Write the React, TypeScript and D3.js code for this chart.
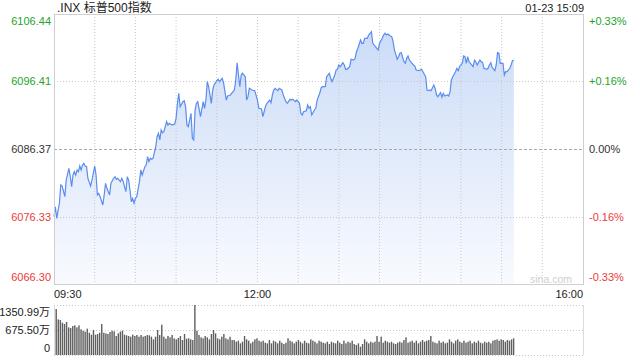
import React from "react";
import * as d3 from "d3";

// ---- data ----
const title = ".INX 标普500指数";
const stamp = "01-23 15:09";
const prevClose = 6086.37;
const yTicks = [6106.44, 6096.41, 6086.37, 6076.33, 6066.3];
const yTickLabels = ["6106.44", "6096.41", "6086.37", "6076.33", "6066.30"];
const pctLabels = ["+0.33%", "+0.16%", "0.00%", "-0.16%", "-0.33%"];
const timeLabels = ["09:30", "12:00", "16:00"];
const timeLabelMinutes = [0, 150, 390];
const volTicks = [1350.99, 675.5, 0];
const volTickLabels = ["1350.99万", "675.50万", "0"];

// minutes after 09:30
const minutes = [
  0, 1, 2, 4, 5, 6, 8, 9, 11, 12, 13, 14, 15, 16, 17, 18, 19, 20, 21, 22, 23, 24, 25, 27, 28, 30, 31, 32, 33, 34,
  36, 37, 38, 39, 41, 42, 44, 45, 46, 47, 49, 50, 51, 52, 53, 54, 55, 56, 57, 58, 59, 60, 61, 63, 64, 65, 67, 68, 69, 70,
  71, 72, 73, 75, 76, 77, 78, 79, 80, 81, 83, 84, 85, 87, 89, 90, 91, 92, 93, 95, 96, 97, 98, 99, 101, 102, 103, 104, 105, 106,
  108, 110, 111, 112, 113, 114, 116, 117, 118, 120, 121, 122, 124, 125, 127, 128, 130, 132, 133, 134, 135, 137, 138, 139, 141, 142, 143, 144, 146, 148,
  150, 151, 153, 154, 156, 157, 159, 160, 161, 162, 163, 165, 166, 168, 169, 171, 172, 174, 175, 176, 178, 179, 181, 182, 183, 184, 186, 187, 188, 189,
  190, 192, 193, 194, 196, 197, 198, 200, 201, 203, 204, 205, 207, 208, 209, 210, 211, 213, 214, 215, 216, 218, 219, 221, 222, 223, 224, 226, 227, 228,
  229, 231, 232, 233, 234, 235, 237, 238, 239, 240, 242, 243, 244, 245, 246, 248, 249, 250, 251, 253, 254, 255, 256, 258, 259, 260, 261, 262, 264, 265,
  266, 267, 269, 270, 271, 272, 274, 275, 276, 277, 278, 280, 281, 282, 283, 285, 286, 287, 288, 290, 291, 292, 293, 294, 296, 297, 298, 299, 301, 302,
  303, 304, 305, 306, 307, 309, 310, 311, 312, 314, 315, 316, 317, 319, 320, 321, 322, 323, 325, 326, 327, 328, 329, 331, 332, 333, 334, 336, 337, 338,
  339,
];

const prices = [
  6076.31, 6077.79, 6076.07, 6078.34, 6081.02, 6080.87, 6079.28, 6081.76, 6083.5, 6082.25, 6080.77, 6082.5, 6083.0, 6082.5, 6083.25, 6083.0, 6083.84, 6083.25, 6083.99, 6084.24, 6083.84, 6083.74, 6082.01, 6080.87, 6081.76, 6083.84, 6082.5, 6079.53, 6079.78, 6079.28,
  6078.04, 6079.53, 6081.27, 6080.53, 6079.53, 6081.27, 6082.01, 6082.25, 6081.87, 6082.01, 6081.51, 6082.01, 6081.51, 6080.77, 6080.02, 6082.25, 6081.76, 6080.27, 6078.54, 6079.04, 6078.3, 6079.04, 6079.28, 6081.51, 6083.25, 6082.5, 6083.74, 6083.99, 6085.23, 6084.48,
  6084.99, 6084.84, 6084.99, 6086.71, 6088.2, 6088.7, 6087.71, 6089.19, 6088.79, 6088.94, 6090.43, 6089.94, 6090.19, 6089.94, 6090.09, 6090.93, 6093.16, 6094.65, 6092.66, 6093.4, 6093.55, 6092.66, 6089.94, 6089.69, 6091.68, 6087.96, 6087.71, 6092.17, 6093.16, 6093.4,
  6091.17, 6093.4, 6092.42, 6093.65, 6096.38, 6095.63, 6093.16, 6095.14, 6095.88, 6096.52, 6096.73, 6096.38, 6096.88, 6096.23, 6093.65, 6094.25, 6094.4, 6094.89, 6095.14, 6096.63, 6099.2, 6095.63, 6097.37, 6097.62, 6097.12, 6093.65, 6094.15, 6095.39, 6095.14, 6095.04,
  6093.65, 6092.42, 6092.32, 6091.17, 6092.76, 6093.16, 6093.65, 6093.25, 6094.4, 6095.14, 6095.39, 6095.04, 6095.39, 6095.14, 6094.4, 6093.4, 6093.16, 6093.76, 6093.65, 6093.76, 6093.4, 6093.65, 6093.16, 6091.68, 6091.42, 6091.92, 6092.06, 6092.91, 6092.42, 6092.66,
  6091.42, 6092.17, 6092.42, 6093.65, 6094.74, 6095.48, 6095.63, 6095.63, 6097.12, 6097.62, 6096.88, 6096.38, 6097.37, 6098.11, 6098.22, 6098.86, 6098.61, 6099.2, 6098.86, 6098.22, 6098.22, 6098.61, 6099.71, 6099.6, 6099.85, 6100.84, 6101.34, 6102.57, 6102.08, 6102.08,
  6102.83, 6102.83, 6103.32, 6103.57, 6103.81, 6102.08, 6101.58, 6101.34, 6101.09, 6102.08, 6102.83, 6103.32, 6103.57, 6103.32, 6103.47, 6103.17, 6103.07, 6102.32, 6101.09, 6099.71, 6100.09, 6100.6, 6100.69, 6099.35, 6099.11, 6099.85, 6100.2, 6099.6, 6099.11, 6098.86,
  6098.71, 6098.11, 6098.01, 6098.11, 6098.22, 6097.86, 6097.12, 6095.14, 6095.04, 6095.14, 6095.04, 6095.88, 6095.39, 6094.4, 6094.15, 6094.74, 6094.06, 6094.65, 6094.25, 6094.4, 6094.25, 6094.89, 6096.63, 6097.12, 6097.86, 6098.37, 6098.01, 6098.61, 6099.11, 6100.2,
  6100.09, 6099.11, 6100.09, 6099.35, 6099.11, 6098.61, 6099.6, 6099.35, 6098.86, 6099.6, 6099.35, 6099.2, 6098.37, 6098.22, 6098.37, 6098.86, 6099.2, 6098.52, 6098.01, 6098.86, 6100.69, 6100.6, 6099.11, 6099.11, 6097.37, 6097.86, 6097.86, 6098.37, 6098.86, 6099.5,
  6099.6,
];

// volume (万), evenly spaced bars across the session so far
const volumes = [
  1242, 963, 945, 873, 837, 891, 747, 729, 783, 801, 747, 801, 693, 657, 630, 711, 603, 549, 675, 549, 567, 603, 837, 603, 585, 567, 621, 657, 639, 513, 585, 630, 657,
  549, 531, 513, 495, 549, 513, 540, 495, 540, 495, 513, 540, 531, 495, 423, 495, 675, 540, 819, 495, 441, 513, 477, 540, 450, 423, 459, 513, 405, 567, 441, 450, 423, 405,
  1350.99,
  657, 540, 477, 450, 513, 477, 423, 567, 675, 585, 450, 423, 495, 567, 450, 423, 495, 405, 405, 360, 387, 315, 360, 513, 423, 387, 315, 360, 423, 450, 387, 360, 387, 333, 315, 405,
  315, 387, 360, 315, 387, 333, 297, 333, 450, 387, 360, 315, 360, 405, 360, 315, 387, 333, 315, 423, 387, 360, 315, 387, 360, 333, 315, 360, 297, 360, 333, 315, 387, 333, 297, 387,
  315, 360, 333, 387, 297, 270, 315, 225, 297, 423, 360, 315, 360, 333, 360, 513, 360, 495, 333, 387,
  360, 333, 360, 315, 297, 333, 360, 333, 405, 477, 333, 360, 387, 333, 387, 315, 360, 405, 360, 387, 405, 513, 360, 333, 315, 387, 333, 360, 315, 333, 423, 360, 315, 387, 423,
  360, 333, 387, 333, 360, 387, 315, 360, 333, 387, 333, 315, 360, 333, 360, 315, 387, 405, 423, 387, 423, 405, 360, 405, 387, 423, 450,
];

const W = 640;
const H = 360;
const FONT = '"Liberation Sans", Arial, "Noto Sans CJK SC", sans-serif';
const GREEN = "#26a32a";
const RED = "#ea3b3b";
const LINE = "#5a8ded";

export default function App() {
  const left = 54;
  const right = 583;
  const top = 14;
  const bottom = 284;
  const vTop = 305;
  const vBottom = 355;

  const x = d3.scaleLinear().domain([0, 390]).range([left, right]);
  const y = d3.scaleLinear().domain([6066.3, 6106.44]).range([bottom, top]);
  const vy = d3.scaleLinear().domain([0, 1350.99]).range([vBottom, vTop]);
  const vx = d3
    .scaleBand<number>()
    .domain(volumes.map((_, i) => i))
    .range([left + 1.5, x(339) + 0.5])
    .paddingInner(0.32);

  const pts = minutes.map((m, i) => [m, prices[i]] as [number, number]);
  const line = d3
    .line<[number, number]>()
    .x((d) => x(d[0]))
    .y((d) => y(d[1]));
  const area = d3
    .area<[number, number]>()
    .x((d) => x(d[0]))
    .y0(bottom)
    .y1((d) => y(d[1]));

  const vGrid = d3.range(30, 390, 30);

  const colorFor = (v: number) =>
    v > prevClose + 0.001 ? GREEN : v < prevClose - 0.001 ? RED : "#333";

  const labelY = (i: number) => {
    const v = y(yTicks[i]);
    if (i === 0) return v + 11;
    if (i === yTicks.length - 1) return v - 3;
    return v + 4;
  };

  return (
    <svg
      width={W}
      height={H}
      style={{ position: "absolute", left: 0, top: 0, background: "#fff" }}
      fontFamily={FONT}
    >
      <defs>
        <linearGradient id="fillg" gradientUnits="userSpaceOnUse" x1="0" y1={top} x2="0" y2={bottom}>
          <stop offset="0%" stopColor="#c9daf7" />
          <stop offset="100%" stopColor="#f8fafe" />
        </linearGradient>
      </defs>

      {/* title */}
      <text x={57} y={12} fontSize={12} fill="#222">
        {title}
      </text>
      <text x={584} y={12} fontSize={11} fill="#222" textAnchor="end">
        {stamp}
      </text>

      {/* area + line */}
      <path d={area(pts) || ""} fill="url(#fillg)" />

      {/* grid */}
      {vGrid.map((m) => (
        <line key={m} x1={x(m)} x2={x(m)} y1={top} y2={bottom} stroke="#c8c8c8" strokeDasharray="1,2" />
      ))}
      {yTicks.slice(1, -1).map((v) => (
        <line
          key={v}
          x1={left}
          x2={right}
          y1={Math.round(y(v)) + 0.5}
          y2={Math.round(y(v)) + 0.5}
          stroke={v === prevClose ? "#a8a8a8" : "#c8c8c8"}
          strokeDasharray={v === prevClose ? "3,2" : "1,2"}
        />
      ))}

      <path d={line(pts) || ""} fill="none" stroke={LINE} strokeWidth={1.2} />

      {/* frame */}
      <rect x={left + 0.5} y={top + 0.5} width={right - left} height={bottom - top} fill="none" stroke="#cfcfcf" />

      {/* watermark */}
      <text x={572} y={283} fontSize={10.5} fill="#cfcfcf" textAnchor="end">
        sina.com
      </text>

      {/* left labels */}
      {yTicks.map((v, i) => (
        <text key={v} x={51} y={labelY(i)} fontSize={11} fill={colorFor(v)} textAnchor="end">
          {yTickLabels[i]}
        </text>
      ))}
      {/* right labels */}
      {yTicks.map((v, i) => (
        <text key={"p" + v} x={589} y={labelY(i)} fontSize={11} fill={colorFor(v)}>
          {pctLabels[i]}
        </text>
      ))}

      {/* time labels */}
      {timeLabels.map((t, i) => (
        <text
          key={t}
          x={x(timeLabelMinutes[i])}
          y={298}
          fontSize={11}
          fill="#222"
          textAnchor={i === 0 ? "start" : i === timeLabels.length - 1 ? "end" : "middle"}
        >
          {t}
        </text>
      ))}

      {/* volume panel */}
      <line x1={left + 0.5} x2={left + 0.5} y1={vTop} y2={vBottom} stroke="#dcdcdc" />
      <line x1={right + 0.5} x2={right + 0.5} y1={vTop} y2={vBottom} stroke="#dcdcdc" />
      {volTicks.map((v) => (
        <line
          key={"vg" + v}
          x1={left}
          x2={right}
          y1={Math.round(vy(v)) + 0.5}
          y2={Math.round(vy(v)) + 0.5}
          stroke="#c8c8c8"
          strokeDasharray="1,2"
        />
      ))}
      {volumes.map((v, i) => (
        <rect key={i} x={vx(i)} y={vy(v)} width={vx.bandwidth()} height={vBottom - vy(v)} fill="#5f5f5f" />
      ))}
      {volTicks.map((v, i) => (
        <text
          key={"vl" + v}
          x={50}
          y={i === 0 ? vy(v) + 11 : i === volTicks.length - 1 ? vy(v) - 3 : vy(v) + 4}
          fontSize={11}
          fill="#222"
          textAnchor="end"
        >
          {volTickLabels[i]}
        </text>
      ))}
    </svg>
  );
}
